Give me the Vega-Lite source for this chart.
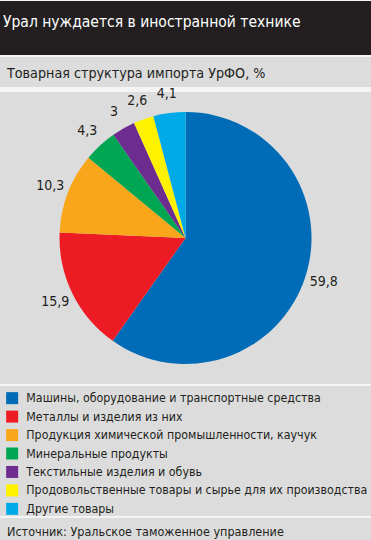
{
  "$schema": "https://vega.github.io/schema/vega-lite/v6.json",
  "background": "#f4f4f4",
  "padding": {"top": 1, "left": 0, "right": 0, "bottom": 0},
  "autosize": {"type": "pad"},
  "spacing": 2,
  "datasets": {
    "imp": [
      {"idx": 1, "cat": "Машины, оборудование и транспортные средства", "value": 59.8},
      {"idx": 2, "cat": "Металлы и изделия из них", "value": 15.9},
      {"idx": 3, "cat": "Продукция химической промышленности, каучук", "value": 10.3},
      {"idx": 4, "cat": "Минеральные продукты", "value": 4.3},
      {"idx": 5, "cat": "Текстильные изделия и обувь", "value": 3},
      {"idx": 6, "cat": "Продовольственные товары и сырье для их производства", "value": 2.6},
      {"idx": 7, "cat": "Другие товары", "value": 4.1}
    ],
    "one": [{"k": 1}]
  },
  "config": {
    "view": {"stroke": null},
    "font": "DejaVu Sans Condensed, sans-serif",
    "locale": {"number": {"decimal": ",", "thousands": " ", "grouping": [3], "currency": ["", ""]}},
    "title": {"anchor": "start", "frame": "group", "fontWeight": "normal", "color": "#231f20"}
  },
  "resolve": {"scale": {"color": "independent"}, "legend": {"color": "independent"}},
  "vconcat": [
    {
      "width": 371,
      "height": 54,
      "view": {"fill": "#231f20"},
      "title": {"text": "Урал нуждается в иностранной технике", "color": "#ffffff", "fontSize": 15.5, "offset": -29, "dx": 3},
      "data": {"name": "one"},
      "mark": {"type": "point", "opacity": 0},
      "encoding": {}
    },
    {
      "spacing": 0,
      "vconcat": [
        {
          "width": 371,
          "height": 30,
          "view": {"fill": "#dcdcdc"},
          "title": {"text": "Товарная структура импорта УрФО, %", "fontSize": 14.2, "offset": -24, "dx": 7},
          "data": {"name": "one"},
          "mark": {"type": "point", "opacity": 0},
          "encoding": {}
        },
        {
          "width": 371,
          "height": 292,
          "view": {"fill": "#dcdcdc"},
          "data": {"name": "imp"},
          "encoding": {
            "theta": {"field": "value", "type": "quantitative", "stack": true},
            "order": {"field": "idx", "type": "quantitative"}
          },
          "layer": [
            {
              "mark": {"type": "arc", "radius": 126},
              "encoding": {
                "color": {
                  "field": "cat", "type": "nominal", "legend": null,
                  "scale": {
                    "domain": ["Машины, оборудование и транспортные средства", "Металлы и изделия из них", "Продукция химической промышленности, каучук", "Минеральные продукты", "Текстильные изделия и обувь", "Продовольственные товары и сырье для их производства", "Другие товары"],
                    "range": ["#006bb6", "#ed1c24", "#f9a61b", "#00a651", "#6d2c90", "#fff200", "#00aae8"]
                  }
                }
              }
            },
            {
              "mark": {"type": "text", "radius": 145, "fontSize": 14, "color": "#231f20"},
              "encoding": {
                "text": {"field": "value", "type": "quantitative", "format": ".1~f"}
              }
            }
          ]
        }
      ]
    },
    {
      "width": 371,
      "height": 130,
      "view": {"fill": "#dcdcdc"},
      "data": {"name": "imp"},
      "mark": {"type": "square", "opacity": 0},
      "encoding": {
        "color": {
          "field": "cat", "type": "nominal",
          "scale": {
            "domain": ["Машины, оборудование и транспортные средства", "Металлы и изделия из них", "Продукция химической промышленности, каучук", "Минеральные продукты", "Текстильные изделия и обувь", "Продовольственные товары и сырье для их производства", "Другие товары"],
            "range": ["#006bb6", "#ed1c24", "#f9a61b", "#00a651", "#6d2c90", "#fff200", "#00aae8"]
          },
          "legend": {
            "title": null,
            "orient": "top-left",
            "offset": 6,
            "padding": 0,
            "symbolType": "square",
            "symbolSize": 144,
            "symbolOpacity": 1,
            "symbolStrokeWidth": 0,
            "labelFontSize": 12.3,
            "labelColor": "#231f20",
            "labelOffset": 8,
            "labelLimit": 400,
            "rowPadding": 5.45
          }
        }
      }
    },
    {
      "width": 371,
      "height": 22,
      "view": {"fill": "#dcdcdc"},
      "title": {"text": "Источник: Уральское таможенное управление", "fontSize": 12.5, "offset": -20, "dx": 7},
      "data": {"name": "one"},
      "mark": {"type": "point", "opacity": 0},
      "encoding": {}
    }
  ]
}
